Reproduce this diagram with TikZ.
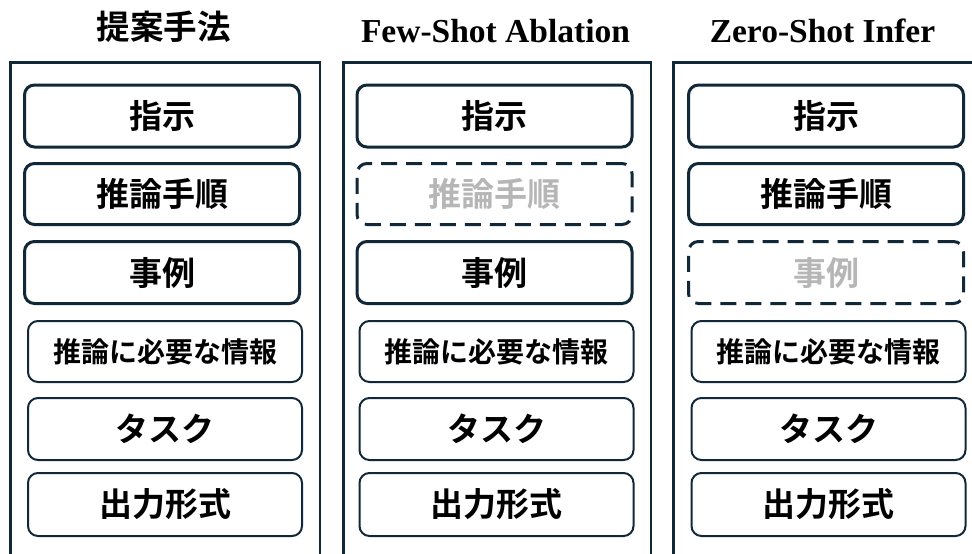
\documentclass[tikz,border=0pt]{standalone}
\usepackage{fontspec}
\setmainfont{Liberation Serif}
\newfontfamily\jp{Noto Sans CJK JP}[BoldFont={* Bold}]
\definecolor{navy}{RGB}{16,40,56}
\definecolor{ghost}{RGB}{182,182,182}
\begin{document}
\begin{tikzpicture}[x=1pt,y=-1pt,
  panel/.style={draw=navy,line width=2.5pt},
  thickbox/.style={draw=navy,line width=3pt,rounded corners=10pt,minimum width=275pt,minimum height=62pt,inner sep=0pt,font=\jp\bfseries\fontsize{33}{33}\selectfont},
  thinbox/.style={draw=navy,line width=2pt,rounded corners=10pt,minimum width=274pt,minimum height=62pt,inner sep=0pt,font=\jp\bfseries\fontsize{33}{33}\selectfont},
  dashbox/.style={thickbox,dash pattern=on 16pt off 9pt,text=ghost},
  infobox/.style={thinbox,minimum height=61pt,font=\jp\bfseries\fontsize{28}{28}\selectfont},
  entitle/.style={font=\bfseries\fontsize{33.5}{33.5}\selectfont,anchor=base,inner sep=0pt},
  jptitle/.style={font=\jp\bfseries\fontsize{33.5}{33.5}\selectfont,inner sep=0pt}]
\useasboundingbox (0,0) rectangle (972,554);
\clip (0,0) rectangle (972,554);
% titles
\node[jptitle] (t1) at (163.5,27) {提案手法};
\node[entitle] (t2) at (495.5,42) {Few-Shot Ablation};
\node[entitle] (t3) at (822.5,42) {Zero-Shot Infer};
% panels
\draw[panel] (10.25,62.25) rectangle (319.75,600);
\draw[panel] (343.25,62.25) rectangle (650.75,600);
\draw[panel] (673.25,62.25) rectangle (990,600);
% panel 1
\node[thickbox] (a1) at (162,116) {指示};
\node[thickbox,minimum height=61pt] (a2) at (162,194) {推論手順};
\node[thickbox] (a3) at (162,272.5) {事例};
\node[infobox] (a4) at (165,351.5) {推論に必要な情報};
\node[thinbox] (a5) at (165,429) {タスク};
\node[thinbox,minimum height=63pt] (a6) at (165,504.5) {出力形式};
% panel 2
\node[thickbox] (b1) at (494.5,116) {指示};
\node[dashbox,minimum height=61pt] (b2) at (494.5,194) {推論手順};
\node[thickbox] (b3) at (494.5,272.5) {事例};
\node[infobox] (b4) at (496.5,351.5) {推論に必要な情報};
\node[thinbox] (b5) at (496.5,429) {タスク};
\node[thinbox,minimum height=63pt] (b6) at (496.5,504.5) {出力形式};
% panel 3
\node[thickbox] (c1) at (826,116) {指示};
\node[thickbox,minimum height=61pt] (c2) at (826,194) {推論手順};
\node[dashbox] (c3) at (826,272.5) {事例};
\node[infobox] (c4) at (828.5,351.5) {推論に必要な情報};
\node[thinbox] (c5) at (828.5,429) {タスク};
\node[thinbox,minimum height=63pt] (c6) at (828.5,504.5) {出力形式};
\end{tikzpicture}
\end{document}
